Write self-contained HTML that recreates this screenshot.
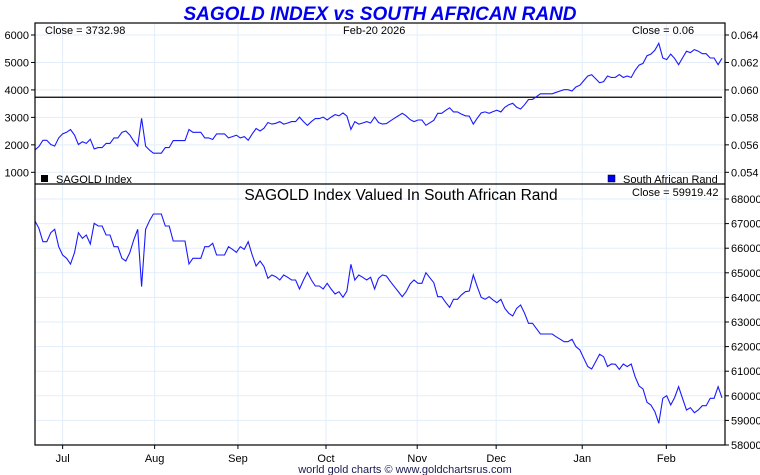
<!DOCTYPE html>
<html><head><meta charset="utf-8"><style>
body{margin:0;background:#fff;}
svg{display:block;font-family:"Liberation Sans",sans-serif;}
</style></head><body>
<svg id="chart" width="760" height="475" viewBox="0 0 760 475">
<text x="380" y="20" text-anchor="middle" font-size="19" font-weight="bold" font-style="italic" fill="#0000ee">SAGOLD INDEX vs SOUTH AFRICAN RAND</text>
<g id="grid"></g>
<g id="marks"></g>
<g id="axes"></g>
<rect x="35" y="23" width="690" height="422" fill="none" stroke="#000" stroke-width="1.2"/>
<line x1="35" y1="184" x2="725" y2="184" stroke="#000" stroke-width="1.2"/>
<text x="45" y="34" font-size="11">Close = 3732.98</text>
<text x="343" y="34" font-size="11">Feb-20  2026</text>
<text x="632" y="34" font-size="11">Close = 0.06</text>
<rect x="41" y="175" width="7" height="7" fill="#000"/>
<text x="56" y="183" font-size="11">SAGOLD Index</text>
<rect x="608" y="175" width="7" height="7" fill="#0000ee" stroke="#000" stroke-width="0.5"/>
<text x="623" y="183" font-size="11">South African Rand</text>
<text x="401" y="200" text-anchor="middle" font-size="15.5">SAGOLD Index Valued In South African Rand</text>
<text x="632" y="196" font-size="11">Close = 59919.42</text>
<text x="405" y="473" text-anchor="middle" font-size="11" fill="#1a1a50">world gold charts © www.goldchartsrus.com</text>
</svg>
<script>
const sagoldClose = 3732.98;
const zarValues = [67106,66808,66266,66266,66632,66767,66062,65724,65588,65358,65819,66632,66401,66537,66171,67011,66903,66903,66537,66537,66062,66062,65588,65480,65819,66333,66767,64437,66767,67119,67390,67390,67390,66903,66903,66293,66293,66293,66293,65358,65588,65588,65588,66062,66062,66198,65724,65724,65724,66062,65954,65832,66062,65954,66266,65724,65277,65480,65250,64775,64911,64840,64708,64911,64816,64708,64708,64342,64708,65019,64708,64464,64464,64342,64572,64342,64138,64233,64003,64260,65344,64708,64911,64816,64708,64816,64342,64775,64911,64870,64650,64437,64240,64030,64233,64545,64708,64572,64572,65006,64800,64599,64030,64030,63800,63596,63922,63922,64100,64233,64260,64911,64437,64000,63922,64030,63900,63786,63922,63556,63353,63244,63556,63691,63353,62946,62946,62730,62512,62512,62512,62512,62400,62300,62201,62201,62296,61998,61862,61523,61185,61090,61390,61686,61591,61185,61293,61279,61076,61293,61185,61293,60778,60398,60276,59735,59626,59355,58881,59897,60006,59626,59925,60371,59897,59423,59518,59315,59423,59599,59599,59897,59897,60371,59919];
const leftTicks = [6000,5000,4000,3000,2000,1000];
const rightTicks = ["0.064","0.062","0.060","0.058","0.056","0.054"];
const rightTickValues = [0.064,0.062,0.060,0.058,0.056,0.054];
const zarTicks = [68000,67000,66000,65000,64000,63000,62000,61000,60000,59000,58000];
const months = ["Jul","Aug","Sep","Oct","Nov","Dec","Jan","Feb"];
const monthStartIndex = [7,30.3,51.4,73.7,96.8,116.8,138.6,159.9];

const NS="http://www.w3.org/2000/svg";
const X0=35,X1=722;
const xIdx=i=>X0+(X1-X0)*i/(zarValues.length-1);
const yLeft=v=>35+(6000-v)*(172.3-35)/5000;
const yRight=v=>35+(0.064-v)*(172.3-35)/0.010;
const yZar=v=>199+(68000-v)*(445-199)/10000;
function mk(tag,attrs,parent){const e=document.createElementNS(NS,tag);for(const k in attrs)e.setAttribute(k,attrs[k]);parent.appendChild(e);return e;}
const grid=document.getElementById('grid'),marks=document.getElementById('marks'),axes=document.getElementById('axes');

leftTicks.forEach((v,i)=>{
  const y=yLeft(v);
  const g=mk('line',{x1:35,x2:725,y1:y,y2:y,stroke:'#e3eefa','stroke-width':1},grid);
  
  
  const t=mk('line',{x1:31,x2:35,y1:y,y2:y,stroke:'#000'},axes);
  
  
  const l=mk('text',{x:29,y:y+4,'text-anchor':'end','font-size':11},axes);
  l.textContent=v;
  
  
});
rightTickValues.forEach((v,i)=>{
  const y=yRight(v);
  const t=mk('line',{x1:725,x2:729,y1:y,y2:y,stroke:'#000'},axes);
  
  
  const l=mk('text',{x:731,y:y+4,'font-size':11},axes);
  l.textContent=rightTicks[i];
  
  
});
zarTicks.forEach(v=>{
  const y=yZar(v);
  const g=mk('line',{x1:35,x2:725,y1:y,y2:y,stroke:'#e3eefa','stroke-width':1},grid);
  
  
  const t=mk('line',{x1:725,x2:729,y1:y,y2:y,stroke:'#000'},axes);
  
  
  const l=mk('text',{x:731,y:y+4,'font-size':11},axes);
  l.textContent=v;
  
  
});
months.forEach((m,i)=>{
  const x=xIdx(monthStartIndex[i]);
  const g=mk('line',{x1:x,x2:x,y1:23,y2:445,stroke:'#e3eefa','stroke-width':1},grid);
  
  
  const t=mk('line',{x1:x,x2:x,y1:445,y2:449,stroke:'#000'},axes);
  
  
  const l=mk('text',{x:x,y:462,'text-anchor':'middle','font-size':11},axes);
  l.textContent=m;
  
  
});

const sy=yLeft(sagoldClose);
const sl=mk('line',{x1:X0,x2:X1,y1:sy,y2:sy,stroke:'#000','stroke-width':1.3},marks);



const randPts=zarValues.map((v,i)=>xIdx(i).toFixed(1)+','+yRight(sagoldClose/v).toFixed(1)).join(' ');
const rl=mk('polyline',{points:randPts,fill:'none',stroke:'#1a1aff','stroke-width':1.1},marks);



const zPts=zarValues.map((v,i)=>xIdx(i).toFixed(1)+','+yZar(v).toFixed(1)).join(' ');
const zl=mk('polyline',{points:zPts,fill:'none',stroke:'#1a1aff','stroke-width':1.1},marks);


</script>
</body></html>
